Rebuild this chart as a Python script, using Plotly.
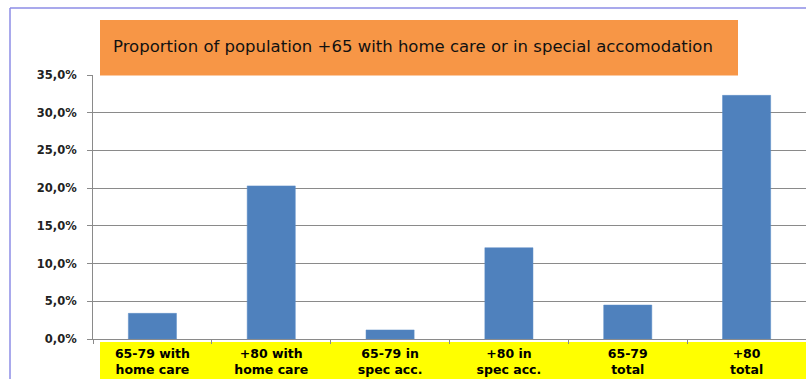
import plotly.graph_objects as go

categories = ["65-79 with<br>home care", "+80 with<br>home care", "65-79 in<br>spec acc.",
              "+80 in<br>spec acc.", "65-79<br>total", "+80<br>total"]
values = [3.4, 20.3, 1.2, 12.1, 4.5, 32.3]
y_tickvals = [0, 5, 10, 15, 20, 25, 30, 35]
y_ticktext = ["0,0%", "5,0%", "10,0%", "15,0%", "20,0%", "25,0%", "30,0%", "35,0%"]
title_text = "Proportion of population +65 with home care or in special accomodation"

W, H = 806, 379
ml, mr, mt, mb = 93, 0, 75, 40
pw = W - ml - mr
ph = H - mt - mb

def px_x(x):
    return (x - ml) / pw

def px_y(y):
    return (H - mb - y) / ph

fig = go.Figure(go.Bar(
    x=categories, y=values,
    marker=dict(color="#4F81BD", line=dict(color="#5B8CC6", width=0.5)),
    width=0.405,
))

grid = "#8a8a8a"
fig.update_layout(
    width=W, height=H,
    margin=dict(l=ml, r=mr, t=mt, b=mb),
    paper_bgcolor="white", plot_bgcolor="white",
    showlegend=False,
    font=dict(family="DejaVu Sans", color="#1a1a1a"),
)
fig.update_yaxes(
    range=[0, 35], tickvals=y_tickvals, ticktext=y_ticktext,
    showgrid=True, gridcolor=grid, gridwidth=1,
    showline=True, linecolor=grid, linewidth=1,
    ticks="outside", ticklen=5, tickcolor=grid,
    ticklabelstandoff=8,
    tickfont=dict(family="DejaVu Sans", size=11.5, weight="bold", color="#222"),
    zeroline=False,
)
fig.update_xaxes(
    showline=True, linecolor=grid, linewidth=1,
    ticks="outside", ticklen=4, tickcolor=grid, tickson="boundaries",
    ticklabelstandoff=3,
    tickfont=dict(family="DejaVu Sans", size=12.5, weight="bold", color="#000"),
    range=[-0.5, 5.5],
)

shapes = []
# yellow label band
shapes.append(dict(type="rect", xref="paper", yref="paper",
                   x0=px_x(100), x1=1.0, y0=px_y(379), y1=px_y(342),
                   fillcolor="#FFFF00", line=dict(width=0), layer="below"))
# orange title box
shapes.append(dict(type="rect", xref="paper", yref="paper",
                   x0=px_x(100), x1=px_x(738), y0=px_y(75.5), y1=px_y(20),
                   fillcolor="#F79646", line=dict(width=0), layer="above"))
# outer border
shapes.append(dict(type="line", xref="paper", yref="paper",
                   x0=px_x(10), x1=px_x(806), y0=px_y(8), y1=px_y(8),
                   line=dict(color="#8C8CE6", width=1.5)))
shapes.append(dict(type="line", xref="paper", yref="paper",
                   x0=px_x(10), x1=px_x(10), y0=px_y(8), y1=px_y(379),
                   line=dict(color="#8C8CE6", width=1.5)))
fig.update_layout(shapes=shapes)

fig.add_annotation(text=title_text, xref="paper", yref="paper",
                   x=px_x(111), y=px_y(46), xanchor="left", yanchor="middle",
                   showarrow=False,
                   font=dict(family="DejaVu Sans", size=16.5, color="#111"))

fig.write_html("out.html")
